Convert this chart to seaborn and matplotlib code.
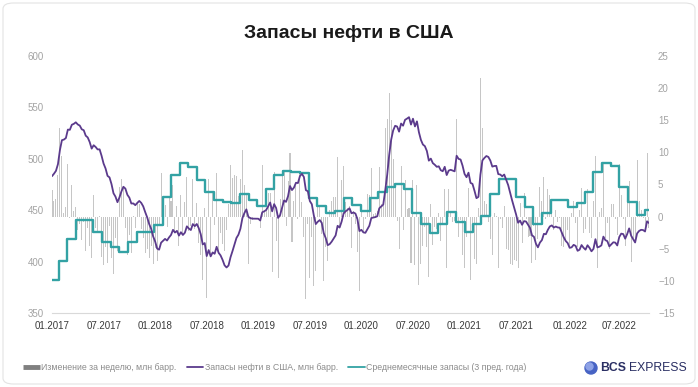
import pandas as pd
import matplotlib
matplotlib.use("Agg")
import matplotlib.pyplot as plt
from matplotlib.lines import Line2D
from matplotlib.patches import FancyBboxPatch, Ellipse
import seaborn as sns

# ---------------- data (weekly, Fridays from 2017-01-06) ----------------
stocks_2017 = [483.1, 485.5, 488.3, 494.8, 508.6, 518.1, 518.7, 520.2, 528.4, 528.2, 533.1, 534.0, 535.5,
               533.4, 532.3, 528.7, 527.8, 522.5, 520.8, 516.3, 509.9, 513.2, 511.5, 509.1, 509.2, 502.9,
               495.4, 490.6, 483.4, 481.9, 475.4, 466.5, 463.2, 457.8, 462.4, 468.2, 472.8, 471.0, 465.0,
               462.2, 456.5, 456.6, 454.9, 457.1, 459.0, 457.1, 453.7, 448.1, 443.0, 436.5, 431.9, 424.5]
stocks_2018 = [419.6, 412.7, 411.6, 418.4, 420.3, 422.1, 420.5, 423.5, 425.9, 430.9, 428.3, 429.9, 425.3,
               428.6, 425.9, 428.1, 434.3, 432.1, 430.7, 436.5, 434.5, 436.6, 432.5, 426.6, 416.7, 418.0,
               405.4, 411.2, 405.1, 408.9, 407.6, 414.4, 408.6, 406.0, 401.7, 396.4, 394.3, 396.2, 404.2,
               410.2, 416.7, 423.0, 426.2, 432.0, 442.3, 447.2, 450.8, 443.5, 442.3, 441.8, 441.8, 441.7]
stocks_2019 = [441.7, 440.0, 448.0, 448.9, 450.2, 453.8, 457.5, 448.9, 455.9, 452.1, 442.5, 445.3, 452.5,
               459.5, 458.1, 463.6, 473.5, 469.6, 472.0, 476.7, 476.4, 483.2, 485.4, 482.3, 469.5, 468.4,
               458.9, 455.8, 445.0, 436.5, 438.8, 440.4, 437.7, 427.7, 422.9, 416.0, 417.0, 419.4, 422.5,
               425.5, 434.8, 433.1, 438.8, 446.7, 448.9, 450.3, 451.9, 447.0, 447.8, 446.7, 441.2, 429.7]
stocks_2020 = [430.9, 428.4, 428.0, 431.5, 434.9, 442.4, 442.8, 443.3, 444.1, 451.8, 453.7, 455.3, 469.1,
               484.3, 503.5, 518.5, 527.5, 532.1, 531.4, 526.4, 534.3, 532.2, 537.9, 539.1, 540.5, 533.3,
               539.0, 531.5, 536.4, 525.8, 518.4, 513.9, 512.3, 507.6, 498.2, 500.2, 495.8, 494.2, 492.2,
               492.7, 488.9, 487.9, 492.2, 484.2, 488.5, 489.3, 488.5, 487.8, 503.0, 499.9, 499.3, 493.3]
stocks_2021 = [485.3, 482.1, 486.5, 476.6, 475.6, 469.0, 461.7, 463.0, 484.6, 498.4, 500.8, 502.7, 501.8,
               498.3, 492.4, 493.0, 493.1, 485.1, 484.7, 483.0, 484.7, 479.6, 474.4, 467.0, 459.4, 452.7,
               445.8, 437.8, 439.9, 435.8, 439.4, 439.0, 435.8, 432.8, 425.6, 424.1, 417.4, 413.9, 418.5,
               420.9, 427.0, 426.6, 430.9, 434.2, 435.2, 433.1, 434.1, 433.2, 433.0, 428.4, 423.7, 420.1,
               418.0]
stocks_2022 = [413.4, 413.9, 416.3, 415.3, 410.5, 411.6, 416.1, 413.5, 411.6, 415.9, 413.4, 410.0, 412.4,
               421.8, 413.8, 414.5, 415.8, 424.3, 420.9, 419.9, 414.8, 416.8, 418.8, 418.5, 415.7, 423.9,
               427.2, 426.8, 422.3, 426.8, 432.3, 425.2, 421.9, 418.6, 427.4, 429.8, 430.9, 430.7, 429.3,
               439.2, 437.5]

changes_2017 = [4.1, 2.4, 2.8, 6.5, 13.8, 9.5, 0.6, 1.5, 8.2, -0.2, 4.9, 0.9, 1.5, -2.1, -1.1, -3.6, -0.9,
                -5.3, -1.7, -4.5, -6.4, 3.3, -1.7, -2.4, 0.1, -6.3, -7.5, -4.8, -7.2, -1.5, -6.5, -8.9,
                -3.3, -5.4, 4.6, 5.8, 4.6, -1.8, -6.0, -2.8, -5.7, 0.1, -1.7, 2.2, 1.9, -1.9, -3.4, -5.6,
                -5.1, -6.5, -4.6, -7.4]
changes_2018 = [-4.9, -6.9, -1.1, 6.8, 1.9, 1.8, -1.6, 3.0, 2.4, 5.0, -2.6, 1.6, -4.6, 3.3, -2.7, 2.2, 6.2,
                -2.2, -1.4, 5.8, -2.0, 2.1, -4.1, -5.9, -9.9, 1.3, -12.6, 5.8, -6.1, 3.8, -1.3, 6.8, -5.8,
                -2.6, -4.3, -5.3, -2.1, 1.9, 8.0, 6.0, 6.5, 6.3, 3.2, 5.8, 10.3, 4.9, 3.6, -7.3, -1.2,
                -0.5, 0.0, -0.1]
changes_2019 = [0.0, -1.7, 8.0, 0.9, 1.3, 3.6, 3.7, -8.6, 7.0, -3.8, -9.6, 2.8, 7.2, 7.0, -1.4, 5.5, 9.9,
                -3.9, 2.4, 4.7, -0.3, 6.8, 2.2, -3.1, -12.8, -1.1, -9.5, -3.1, -10.8, -8.5, 2.3, 1.6, -2.7,
                -10.0, -4.8, -6.9, 1.0, 2.4, 3.1, 3.0, 9.3, -1.7, 5.7, 7.9, 2.2, 1.4, 1.6, -4.9, 0.8, -1.1,
                -5.5, -11.5]
changes_2020 = [1.2, -2.5, -0.4, 3.5, 3.4, 7.5, 0.4, 0.5, 0.8, 7.7, 1.9, 1.6, 13.8, 15.2, 19.2, 15.0, 9.0,
                4.6, -0.7, -5.0, 7.9, -2.1, 5.7, 1.2, 1.4, -7.2, 5.7, -7.5, 4.9, -10.6, -7.4, -4.5, -1.6,
                -4.7, -9.4, 2.0, -4.4, -1.6, -2.0, 0.5, -3.8, -1.0, 4.3, -8.0, 4.3, 0.8, -0.8, -0.7, 15.2,
                -3.1, -0.6, -6.0]
changes_2021 = [-8.0, -3.2, 4.4, -9.9, -1.0, -6.6, -7.3, 1.3, 21.6, 13.8, 2.4, 1.9, -0.9, -3.5, -5.9, 0.6,
                0.1, -8.0, -0.4, -1.7, 1.7, -5.1, -5.2, -7.4, -7.6, -6.7, -6.9, -8.0, 2.1, -4.1, 3.6, -0.4,
                -3.2, -3.0, -7.2, -1.5, -6.7, -3.5, 4.6, 2.4, 6.1, -0.4, 4.3, 3.3, 1.0, -2.1, 1.0, -0.9,
                -0.2, -4.6, -4.7, -3.6, -2.1]
changes_2022 = [-4.6, 0.5, 2.4, -1.0, -4.8, 1.1, 4.5, -2.6, -1.9, 4.3, -2.5, -3.4, 2.4, 9.4, -8.0, 0.7, 1.3,
                8.5, -3.4, -1.0, -5.1, 2.0, 2.0, -0.3, -2.8, 8.2, 3.3, -0.4, -4.5, 4.5, 5.5, -7.1, -3.3,
                -3.3, 8.8, 2.4, 1.1, -0.2, -1.4, 9.9, -1.7]

# monthly 3-year average stocks, Jan 2017 .. Oct 2022
avg3y_2017 = [382, 401, 422, 440, 440, 429, 419, 414, 409, 419, 429, 429]
avg3y_2018 = [436, 463, 484, 496, 492, 479, 468, 460, 458, 457, 466, 460]
avg3y_2019 = [454, 471, 484, 488, 487, 486, 462, 454, 447, 449, 462, 455]
avg3y_2020 = [449, 462, 468, 473, 475, 471, 447, 437, 428, 437, 448, 439]
avg3y_2021 = [429, 437, 444, 466, 480, 480, 463, 453, 437, 447, 460, 460]
avg3y_2022 = [453, 457, 468, 487, 496, 493, 473, 458, 445, 450]

tick_months = ["2017-01", "2017-07", "2018-01", "2018-07", "2019-01", "2019-07",
               "2020-01", "2020-07", "2021-01", "2021-07", "2022-01", "2022-07"]
tick_labels = ["01.2017", "07.2017", "01.2018", "07.2018", "01.2019", "07.2019",
               "01.2020", "07.2020", "01.2021", "07.2021", "01.2022", "07.2022"]

title = "Запасы нефти в США"
legend_labels = ["Изменение за неделю, млн барр.", "Запасы нефти в США, млн барр.",
                 "Среднемесячные запасы (3 пред. года)"]

# ---------------- assemble ----------------
stocks = stocks_2017 + stocks_2018 + stocks_2019 + stocks_2020 + stocks_2021 + stocks_2022
changes = changes_2017 + changes_2018 + changes_2019 + changes_2020 + changes_2021 + changes_2022
avg3y = avg3y_2017 + avg3y_2018 + avg3y_2019 + avg3y_2020 + avg3y_2021 + avg3y_2022

weeks = pd.date_range("2017-01-06", periods=len(stocks), freq="W-FRI")
months = pd.date_range("2017-01-01", periods=len(avg3y), freq="MS")
df_w = pd.DataFrame({"date": weeks, "stocks": stocks, "change": changes})
df_m = pd.DataFrame({"date": list(months) + [weeks[-1]], "avg": avg3y + [avg3y[-1]]})

tick_pos = [weeks[weeks >= pd.Timestamp(m + "-01")][0] for m in tick_months]

PURPLE = "#5b3a8c"
TEAL = "#33a2a4"
BARC = "#c6c6c6"
GRAY_TXT = "#a3a3a3"

sns.set_style("white")
plt.rcParams["font.family"] = ["Liberation Sans", "DejaVu Sans"]

W, H = 698, 387
fig = plt.figure(figsize=(W / 100, H / 100), dpi=100)
fig.patch.set_facecolor("white")

ax = fig.add_axes([52 / W, 1 - 313 / H, 597 / W, 257 / H])
ax2 = ax.twinx()

# bars (right scale)
ax.bar(df_w["date"], df_w["change"], width=3.6, color=BARC, linewidth=0, zorder=1)
ax.set_ylim(-15, 25)
ax.set_yticks(range(-15, 30, 5))
ax.yaxis.tick_right()

# lines (left scale)
sns.lineplot(data=df_m, x="date", y="avg", ax=ax2, color=TEAL, linewidth=1.7,
             drawstyle="steps-post")
sns.lineplot(data=df_w, x="date", y="stocks", ax=ax2, color=PURPLE, linewidth=1.3)
ax2.set_ylim(350, 600)
ax2.set_yticks(range(350, 601, 50))
ax2.yaxis.tick_left()
ax2.set_xlabel("")
ax2.set_ylabel("")
ax.set_ylabel("")
ax.set_xlabel("")

ax.set_xlim(weeks[0], weeks[-1])
ax.set_xticks(tick_pos)
ax.set_xticklabels(tick_labels)

for a in (ax, ax2):
    for s in a.spines.values():
        s.set_visible(False)
ax.spines["bottom"].set_visible(True)
ax.spines["bottom"].set_color("#d9d9d9")
ax.spines["bottom"].set_linewidth(0.8)
ax.spines["bottom"].set_position(("data", -15))

ax.tick_params(axis="x", length=3, width=0.8, color="#d9d9d9", labelsize=7,
               labelcolor="#3a3a3a", pad=3)
ax.tick_params(axis="y", length=0, labelsize=7, labelcolor=GRAY_TXT, pad=6.5)
ax2.tick_params(axis="y", length=0, labelsize=7, labelcolor=GRAY_TXT, pad=6)
ax.grid(False)
ax2.grid(False)

# title
fig.text(0.5, 1 - 33 / H, title, ha="center", va="center", fontsize=14,
         fontweight="bold", color="#1a1a1a")

# legend
handles = [Line2D([0], [0], color="#808080", lw=3.5, solid_capstyle="butt"),
           Line2D([0], [0], color=PURPLE, lw=1.3),
           Line2D([0], [0], color=TEAL, lw=1.3)]
fig.legend(handles, legend_labels, loc="center left", bbox_to_anchor=(23 / W, 1 - 368 / H),
           ncol=3, frameon=False, fontsize=6.3, handlelength=1.9, handletextpad=0.15,
           columnspacing=1.2, borderpad=0, borderaxespad=0, labelcolor="#8c8c8c")

# logo
cy = 1 - 368 / H
fig.add_artist(Ellipse((591 / W, cy), 12 / W, 12 / H, transform=fig.transFigure,
                       color="#4763c4", zorder=5))
fig.add_artist(Ellipse((589.5 / W, cy + 1.5 / H), 7 / W, 7 / H, transform=fig.transFigure,
                       color="#8ea2e6", zorder=6))
t1 = fig.text(600 / W, cy, "BCS", ha="left", va="center", fontsize=8.8, fontweight="bold",
              color="#2a2f63")
fig.canvas.draw()
bb = t1.get_window_extent()
fig.text((bb.x1 + 3) / W, cy, "EXPRESS", ha="left", va="center", fontsize=8.8,
         color="#2a2f63")

# rounded outer border
fig.add_artist(FancyBboxPatch((3 / W, 3 / H), 692 / W, 381 / H,
                              boxstyle="round,pad=0,rounding_size=0.015",
                              transform=fig.transFigure, fill=False,
                              edgecolor="#e3e3e3", linewidth=0.8))

fig.savefig("out.png", dpi=100, facecolor="white")
